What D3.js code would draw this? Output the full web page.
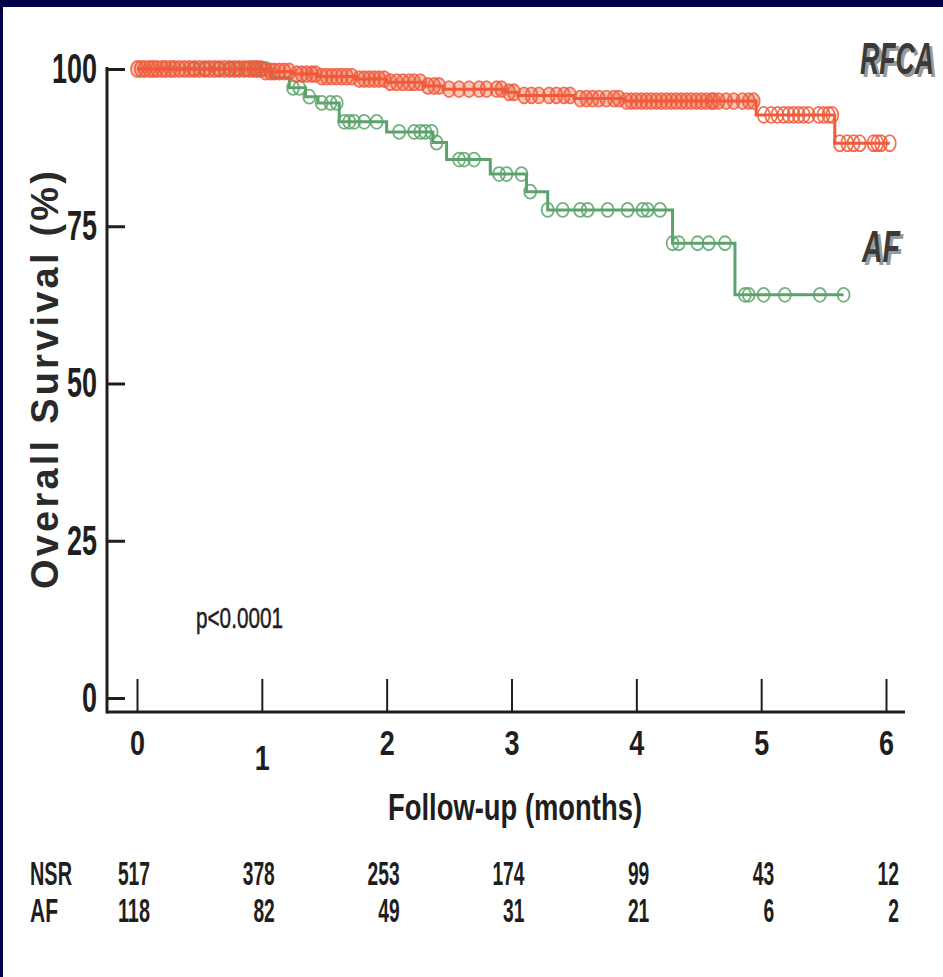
<!DOCTYPE html>
<html>
<head>
<meta charset="utf-8">
<script src="https://cdn.jsdelivr.net/npm/d3@7"></script>
<style>
  html, body { margin: 0; padding: 0; background: #000046; }
  #chart { width: 943px; height: 977px; }
</style>
</head>
<body>
<div id="chart"></div>
<script>
/* Kaplan-Meier: overall survival, RFCA vs AF, with number-at-risk table */

const months = [0, 1, 2, 3, 4, 5, 6];
const yTicks = [0, 25, 50, 75, 100];

// step curves: [time in months, survival %]
const rfcaSteps = [
  [0, 100], [1.0, 99.6], [1.25, 99.2], [1.45, 98.8], [1.75, 98.4], [2.0, 97.9],
  [2.3, 97.3], [2.45, 96.8], [2.95, 96.3], [3.05, 95.8], [3.5, 95.3], [3.9, 94.9],
  [4.96, 92.7], [5.59, 88.2],
];
const rfcaEnd = 6.03;

const afSteps = [
  [0, 100], [1.08, 98.6], [1.22, 97.0], [1.35, 95.6], [1.45, 94.6], [1.62, 91.6],
  [2.0, 90.0], [2.37, 88.3], [2.48, 85.6], [2.83, 83.3], [3.12, 80.5], [3.29, 77.6],
  [4.29, 72.3], [4.79, 64.1],
];
const afEnd = 5.66;

// censored observations (months)
const rfcaCensor = [
  0.0, 0.03, 0.06, 0.1, 0.13, 0.16, 0.2, 0.23, 0.27, 0.3, 0.34, 0.38, 0.42, 0.46,
  0.5, 0.54, 0.58, 0.62, 0.66, 0.7, 0.74, 0.78, 0.82, 0.86, 0.9, 0.93, 0.96, 0.99,
  1.03, 1.07, 1.1, 1.14, 1.18, 1.22, 1.28, 1.32, 1.36, 1.4, 1.43,
  1.48, 1.52, 1.56, 1.6, 1.64, 1.68, 1.72, 1.78, 1.82, 1.86, 1.9, 1.94, 1.98,
  2.03, 2.08, 2.13, 2.18, 2.22, 2.27, 2.33, 2.38, 2.42,
  2.5, 2.58, 2.66, 2.74, 2.8, 2.88, 2.92, 2.98, 3.02,
  3.1, 3.16, 3.22, 3.3, 3.36, 3.42, 3.47, 3.55, 3.6, 3.65, 3.7, 3.76, 3.82, 3.86,
  3.92, 3.96, 4.0, 4.04, 4.08, 4.12, 4.16, 4.2, 4.24, 4.28, 4.32, 4.36, 4.4, 4.44,
  4.48, 4.52, 4.56, 4.6, 4.62, 4.66, 4.72, 4.78, 4.85, 4.9, 4.94,
  5.02, 5.08, 5.13, 5.18, 5.22, 5.26, 5.3, 5.34, 5.38, 5.46, 5.5, 5.54, 5.57,
  5.63, 5.69, 5.74, 5.79, 5.9, 5.93, 5.96, 6.03,
];
const afCensor = [
  0.45, 0.55, 0.65, 0.75, 0.8, 0.88, 0.95, 1.0, 1.03,
  1.25, 1.3, 1.38, 1.48, 1.55, 1.6,
  1.66, 1.7, 1.74, 1.82, 1.92, 2.1, 2.22, 2.27, 2.31, 2.36, 2.4,
  2.58, 2.62, 2.7, 2.9, 2.96, 3.08, 3.15, 3.29,
  3.41, 3.55, 3.61, 3.77, 3.93, 4.05, 4.09, 4.19, 4.29,
  4.34, 4.49, 4.58, 4.71, 4.87, 4.9, 5.02, 5.19, 5.47, 5.66,
];

// number at risk
const riskLabels = ['NSR', 'AF'];
const nsrAtRisk = [517, 378, 253, 174, 99, 43, 12];
const afAtRisk = [118, 82, 49, 31, 21, 6, 2];

const RED = '#ef5a3a';
const GREEN = '#5ca36b';
const INK = '#1e1e1e';
const NARROW = "'Liberation Sans Narrow', 'Arial Narrow', 'Liberation Sans', Arial, sans-serif";
const SANS = "'Liberation Sans', Arial, sans-serif";

const W = 943, H = 977;

const svg = d3.select('#chart').append('svg')
  .attr('width', W).attr('height', H);

// navy frame + white panel
svg.append('rect').attr('width', W).attr('height', H).attr('fill', '#000046');
svg.append('rect').attr('x', 3).attr('y', 7).attr('width', W - 3).attr('height', H - 7).attr('fill', '#fff');

const x = d3.scaleLinear().domain([0, 6]).range([137, 886]);
const y = d3.scaleLinear().domain([0, 100]).range([698, 69]);
const axisX = 107, axisY = 712;

// condensed label helper
function squeeze(sel, perChar) {
  sel.each(function () {
    const t = this.textContent;
    d3.select(this)
      .attr('textLength', t.length * perChar)
      .attr('lengthAdjust', 'spacingAndGlyphs');
  });
}

// ---- Axes ----
const gy = svg.append('g')
  .attr('transform', `translate(${axisX},0)`)
  .call(d3.axisLeft(y).tickValues(yTicks).tickSize(-18).tickPadding(10).tickFormat(d3.format('d')));
gy.select('.domain').remove();
gy.selectAll('.tick line').attr('stroke', INK).attr('stroke-width', 3);
gy.selectAll('.tick text')
  .attr('fill', INK)
  .style('font-family', NARROW).style('font-weight', 'bold').style('font-size', '42px')
  .call(squeeze, 15);

const gx = svg.append('g')
  .attr('transform', `translate(0,${axisY})`)
  .call(d3.axisBottom(x).tickValues(months).tickSize(-33).tickPadding(18).tickFormat(d3.format('d')));
gx.select('.domain').remove();
gx.selectAll('.tick line').attr('stroke', INK).attr('stroke-width', 2);
gx.selectAll('.tick text')
  .attr('fill', INK)
  .attr('dy', d => d === 1 ? '1.15em' : '0.71em')
  .style('font-family', NARROW).style('font-weight', 'bold').style('font-size', '35px')
  .call(squeeze, 15);

svg.append('line')
  .attr('x1', axisX).attr('x2', 905).attr('y1', axisY).attr('y2', axisY)
  .attr('stroke', INK).attr('stroke-width', 3);
svg.append('line')
  .attr('x1', axisX).attr('x2', axisX).attr('y1', 67).attr('y2', axisY + 1.5)
  .attr('stroke', INK).attr('stroke-width', 3);

// axis titles
svg.append('text')
  .attr('transform', `translate(58,${380}) rotate(-90)`)
  .attr('text-anchor', 'middle')
  .attr('fill', '#2a2a2a')
  .style('font-family', SANS).style('font-weight', 'bold').style('font-size', '38px')
  .attr('textLength', 418).attr('lengthAdjust', 'spacing')
  .text('Overall Survival (%)');

svg.append('text')
  .attr('x', 515).attr('y', 820)
  .attr('text-anchor', 'middle')
  .attr('fill', INK)
  .style('font-family', NARROW).style('font-weight', 'bold').style('font-size', '36px')
  .attr('textLength', 254).attr('lengthAdjust', 'spacingAndGlyphs')
  .text('Follow-up (months)');

svg.append('text')
  .attr('x', 196).attr('y', 628)
  .attr('fill', INK)
  .style('font-family', NARROW).style('font-size', '29px')
  .style('stroke', INK).style('stroke-width', 0.5)
  .attr('textLength', 87).attr('lengthAdjust', 'spacingAndGlyphs')
  .text('p<0.0001');

// ---- Curves ----
function valueAt(steps, t) {
  let v = steps[0][1];
  for (const [st, sv] of steps) { if (st <= t) v = sv; }
  return v;
}

const stepLine = d3.line()
  .x(d => x(d[0]))
  .y(d => y(d[1]))
  .curve(d3.curveStepAfter);

const series = [
  { steps: afSteps, end: afEnd, censor: afCensor, color: GREEN, ry: 7, tint: 'none' },
  { steps: rfcaSteps, end: rfcaEnd, censor: rfcaCensor, color: RED, ry: 8, tint: 'rgba(239,90,58,0.4)' },
];

series.forEach(s => {
  const pts = s.steps.concat([[s.end, s.steps[s.steps.length - 1][1]]]);
  svg.append('path')
    .datum(pts)
    .attr('d', stepLine)
    .attr('fill', 'none')
    .attr('stroke', s.color)
    .attr('stroke-width', 3);

  svg.append('g').selectAll('ellipse')
    .data(s.censor)
    .join('ellipse')
    .attr('cx', d => x(d))
    .attr('cy', d => y(valueAt(s.steps, d)))
    .attr('rx', 6).attr('ry', s.ry)
    .attr('fill', d => d < 4.95 ? s.tint : 'none')
    .attr('stroke', s.color)
    .attr('stroke-width', 1.8)
    .attr('opacity', 0.85);
});

// ---- Group labels (shadowed) ----
function shadowLabel(txt, lx, ly, len) {
  [[3, 3, '#9a9a9a'], [0, 0, '#3a3a3a']].forEach(([dx, dy, c]) => {
    svg.append('text')
      .attr('x', lx + dx).attr('y', ly + dy)
      .attr('fill', c)
      .style('font-family', SANS).style('font-weight', 'bold')
      .style('font-style', 'italic').style('font-size', '44px')
      .attr('textLength', len).attr('lengthAdjust', 'spacingAndGlyphs')
      .text(txt);
  });
}
shadowLabel('RFCA', 860, 74, 74);
shadowLabel('AF', 862, 262, 38);

// ---- Number at risk ----
const riskRows = [nsrAtRisk, afAtRisk];
const rowY = [885, 922];
riskRows.forEach((row, i) => {
  svg.append('text')
    .attr('x', 30).attr('y', rowY[i])
    .attr('fill', INK)
    .style('font-family', NARROW).style('font-weight', 'bold').style('font-size', '34px')
    .text(riskLabels[i])
    .call(squeeze, 14);

  svg.append('g').selectAll('text')
    .data(row)
    .join('text')
    .attr('x', (d, j) => x(months[j]) + 13)
    .attr('y', rowY[i])
    .attr('text-anchor', 'end')
    .attr('fill', INK)
    .style('font-family', NARROW).style('font-weight', 'bold').style('font-size', '34px')
    .text(d => d)
    .call(squeeze, 10.7);
});
</script>
</body>
</html>
